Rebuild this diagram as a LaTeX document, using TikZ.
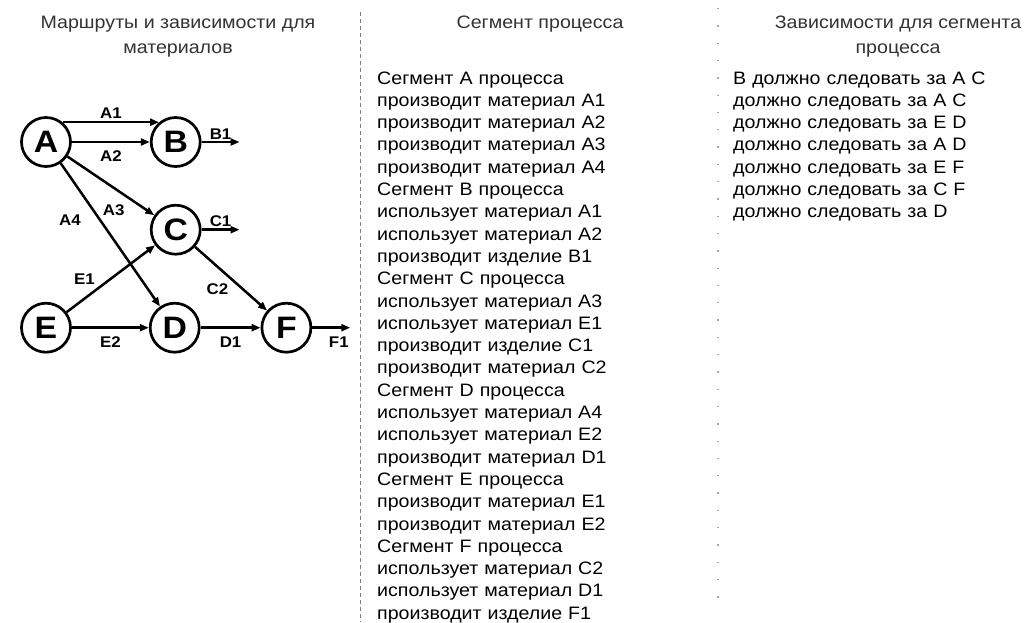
\documentclass[tikz,border=0pt]{standalone}
\usepackage{fontspec}
\setmainfont{Liberation Sans}[FakeStretch=1.09]
\usetikzlibrary{arrows.meta, positioning}
\tikzset{
  proc/.style={circle, draw=black, line width=2.7pt, minimum size=49pt,
               inner sep=0pt, font=\fontsize{31}{32}\selectfont\bfseries},
  flow/.style={-{Triangle[length=9pt, width=7pt]}, line width=2.5pt, draw=black},
  lbl/.style={font=\fontsize{15.5}{16}\selectfont\bfseries, inner sep=1.5pt},
  head/.style={font=\fontsize{18}{25}\selectfont, align=center,
               text=black!80, inner sep=0pt, anchor=north},
  col/.style={font=\fontsize{18}{22.3}\selectfont, align=left, text width=300pt,
              text=black, inner sep=0pt, anchor=base west},
  sep/.style={gray, line width=0.8pt, dash pattern=on 4pt off 3pt},
  dotsep/.style={gray!70, line width=1.3pt, dash pattern=on 1.3pt off 16pt},
}

\begin{document}
\begin{tikzpicture}[x=1pt, y=-1pt]
\useasboundingbox (0,0) rectangle (1028,622);

% ── граф сегментов ───────────────────────────────────────────────────────────
\node[proc] (A) at (46,142) {A};
\node[proc, right=78pt of A] (B) {B};
\node[proc, below=36pt of B] (C) {C};
\node[proc, below=134pt of A] (E) {E};
\node[proc, right=77pt of E] (D) {D};
\node[proc, right=60pt of D] (F) {F};

% выходы изделий
\coordinate[right=38pt of B.east] (b1);
\coordinate[right=38pt of C.east] (c1);
\coordinate[right=38pt of F.east] (f1);

\draw[flow] (A.50) -- node[lbl, above=1pt] {A1} (B.130);
\draw[flow] (A) -- node[lbl, below=6pt] {A2} (B);
\draw[flow] (A) -- node[lbl, pos=.7, below left=4pt and 1pt] {A3} (C);
\draw[flow] (A) -- node[lbl, pos=.4, left=17pt] {A4} (D);
\draw[flow] (E) -- node[lbl, pos=.35, above left=1pt and 0pt] {E1} (C);
\draw[flow] (E) -- node[lbl, below=6pt] {E2} (D);
\draw[flow] (C) -- node[lbl, pos=.5, below left=2pt and 0pt] {C2} (F);
\draw[flow] (D) -- node[lbl, below=6pt] {D1} (F);
\draw[flow] (B) -- node[lbl, above, pos=.5] {B1} (b1);
\draw[flow] (C) -- node[lbl, above, pos=.5] {C1} (c1);
\draw[flow] (F) -- node[lbl, below=6pt, pos=.7] {F1} (f1);

% ── заголовки ────────────────────────────────────────────────────────────────
\node[head] (h1) at (178,16) {Маршруты и зависимости для\\материалов};
\node[head] (h2) at (540,16) {Сегмент процесса};
\node[head] (h3) at (898,16) {Зависимости для сегмента\\процесса};

% ── столбцы текста ───────────────────────────────────────────────────────────
\node[col] (segs) at (377,84) {%
  Сегмент A процесса\\
  производит материал A1\\
  производит материал A2\\
  производит материал A3\\
  производит материал A4\\
  Сегмент B процесса\\
  использует материал A1\\
  использует материал A2\\
  производит изделие B1\\
  Сегмент C процесса\\
  использует материал A3\\
  использует материал E1\\
  производит изделие C1\\
  производит материал C2\\
  Сегмент D процесса\\
  использует материал A4\\
  использует материал E2\\
  производит материал D1\\
  Сегмент E процесса\\
  производит материал E1\\
  производит материал E2\\
  Сегмент F процесса\\
  использует материал C2\\
  использует материал D1\\
  производит изделие F1};

\node[col] (deps) at (733,84) {%
  B должно следовать за A C\\
  должно следовать за A C\\
  должно следовать за E D\\
  должно следовать за A D\\
  должно следовать за E F\\
  должно следовать за C F\\
  должно следовать за D};

% ── разделители ──────────────────────────────────────────────────────────────
\draw[sep] (360,12) -- (360,622);
\draw[dotsep] (718,8) -- (718,610);

\end{tikzpicture}
\end{document}
